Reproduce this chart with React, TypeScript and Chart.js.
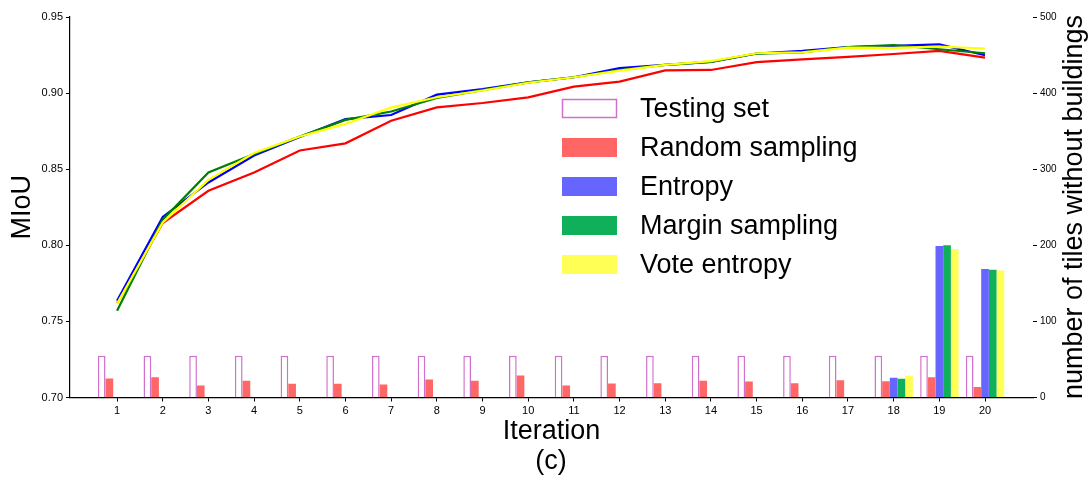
import React, { useEffect, useRef } from 'react';
import { Chart, registerables } from 'chart.js';

Chart.register(...registerables);

const FONT = '"Liberation Sans", Arial, Helvetica, sans-serif';

const iterations = [1, 2, 3, 4, 5, 6, 7, 8, 9, 10, 11, 12, 13, 14, 15, 16, 17, 18, 19, 20];

// MIoU lines (left axis)
const miouRandom = [0.762, 0.8146, 0.8358, 0.8478, 0.8623, 0.867, 0.8818, 0.8906, 0.8935, 0.8972, 0.9043, 0.9075, 0.9149, 0.9152, 0.9203, 0.9222, 0.9238, 0.9257, 0.9277, 0.9233];
const miouEntropy = [0.7636, 0.8186, 0.8413, 0.859, 0.8712, 0.8829, 0.8856, 0.899, 0.9026, 0.907, 0.9104, 0.9164, 0.9186, 0.9205, 0.926, 0.9277, 0.9303, 0.931, 0.932, 0.9249];
const miouMargin = [0.757, 0.8168, 0.8478, 0.86, 0.8715, 0.8824, 0.8879, 0.8968, 0.902, 0.907, 0.9104, 0.9152, 0.9186, 0.9205, 0.926, 0.9268, 0.9303, 0.9316, 0.9288, 0.9262];
const miouVote = [0.7617, 0.815, 0.843, 0.8606, 0.8715, 0.8798, 0.8905, 0.8973, 0.9017, 0.9068, 0.9104, 0.9148, 0.9186, 0.921, 0.9262, 0.9268, 0.9299, 0.9297, 0.9305, 0.9293];

// number of tiles without buildings (right axis)
const tilesTesting = [55, 55, 55, 55, 55, 55, 55, 55, 55, 55, 55, 55, 55, 55, 55, 55, 55, 55, 55, 55];
const tilesRandom = [25, 26.6, 15.7, 22, 18, 18, 17, 23.6, 22, 29, 15.7, 18.4, 18.8, 22, 21, 18.8, 22.7, 21.5, 26.6, 13.8];
const tilesEntropy = [0, 0, 0, 0, 0, 0, 0, 0, 0, 0, 0, 0, 0, 0, 0, 0, 0, 26, 199, 169];
const tilesMargin = [0, 0, 0, 0, 0, 0, 0, 0, 0, 0, 0, 0, 0, 0, 0, 0, 0, 24.5, 200, 168];
const tilesVote = [0, 0, 0, 0, 0, 0, 0, 0, 0, 0, 0, 0, 0, 0, 0, 0, 0, 28.5, 195, 167];

const leftTicks = [0.7, 0.75, 0.8, 0.85, 0.9, 0.95];
const rightTicks = [0, 100, 200, 300, 400, 500];

const pts = (vals: number[]) => vals.map((v, i) => ({ x: iterations[i], y: v }));

const overlayPlugin = {
  id: 'overlay',
  afterDraw(chart: any) {
    const ctx = chart.ctx as CanvasRenderingContext2D;
    ctx.save();
    // legend (bar datasets)
    const bars = chart.data.datasets.filter((d: any) => d.type === 'bar');
    const boxX = 562;
    const boxW = 55;
    const boxH = 19;
    const y0 = 108.5;
    const dy = 39;
    ctx.font = `27px ${FONT}`;
    ctx.textBaseline = 'middle';
    ctx.textAlign = 'left';
    bars.forEach((ds: any, i: number) => {
      const cy = y0 + i * dy;
      ctx.fillStyle = ds.backgroundColor;
      ctx.fillRect(boxX, cy - boxH / 2, boxW, boxH);
      if (ds.borderWidth) {
        ctx.strokeStyle = ds.borderColor;
        ctx.lineWidth = ds.borderWidth;
        ctx.strokeRect(boxX + 0.5, cy - boxH / 2 + 0.5, boxW - 1, boxH - 1);
      }
      ctx.fillStyle = '#000';
      ctx.fillText(ds.label, 640, cy + 1);
    });
    // right axis title (reads bottom to top)
    ctx.save();
    ctx.translate(1075, 207);
    ctx.rotate(-Math.PI / 2);
    ctx.textAlign = 'center';
    ctx.textBaseline = 'middle';
    ctx.font = `27px ${FONT}`;
    ctx.fillStyle = '#000';
    ctx.fillText('number of tiles without buildings', 0, 0);
    ctx.restore();
    // subfigure caption
    ctx.textAlign = 'center';
    ctx.textBaseline = 'middle';
    ctx.font = `27px ${FONT}`;
    ctx.fillStyle = '#000';
    ctx.fillText('(c)', 551, 462);
    ctx.restore();
  },
};

export default function App() {
  const ref = useRef<HTMLCanvasElement | null>(null);

  useEffect(() => {
    if (!ref.current) return;
    Chart.defaults.font.family = FONT;
    const barCommon = {
      type: 'bar' as const,
      xAxisID: 'x',
      yAxisID: 'y2',
      categoryPercentage: 0.84,
      barPercentage: 1.0,
      order: 10,
    };
    const lineCommon = {
      type: 'line' as const,
      xAxisID: 'x',
      yAxisID: 'y',
      pointRadius: 0,
      pointHoverRadius: 0,
      borderWidth: 2.2,
      tension: 0,
      fill: false,
    };
    const chart = new Chart(ref.current, {
      data: {
        datasets: [
          { ...lineCommon, label: 'Random sampling line', data: pts(miouRandom), borderColor: '#FF0000', order: 4 },
          { ...lineCommon, label: 'Entropy line', data: pts(miouEntropy), borderColor: '#0000FF', order: 3 },
          { ...lineCommon, label: 'Margin sampling line', data: pts(miouMargin), borderColor: '#008000', order: 2 },
          { ...lineCommon, label: 'Vote entropy line', data: pts(miouVote), borderColor: '#FFFF00', order: 1 },
          { ...barCommon, label: 'Testing set', data: pts(tilesTesting), backgroundColor: '#FFFFFF', borderColor: '#D070CC', borderWidth: 1.5 },
          { ...barCommon, label: 'Random sampling', data: pts(tilesRandom), backgroundColor: '#FF6666', borderWidth: 0 },
          { ...barCommon, label: 'Entropy', data: pts(tilesEntropy), backgroundColor: '#6666FF', borderWidth: 0 },
          { ...barCommon, label: 'Margin sampling', data: pts(tilesMargin), backgroundColor: '#10B05A', borderWidth: 0 },
          { ...barCommon, label: 'Vote entropy', data: pts(tilesVote), backgroundColor: '#FFFF55', borderWidth: 0 },
        ] as any,
      },
      options: {
        animation: false,
        responsive: false,
        maintainAspectRatio: false,
        devicePixelRatio: 1,
        layout: { padding: { top: 17, left: 0, right: 0, bottom: 0 } },
        plugins: {
          legend: { display: false },
          tooltip: { enabled: false },
          title: { display: false },
        },
        scales: {
          x: {
            type: 'linear',
            position: 'bottom',
            offset: false,
            min: -0.03,
            max: 21.05,
            afterBuildTicks: (s: any) => {
              s.ticks = iterations.map((v) => ({ value: v }));
            },
            afterFit: (s: any) => {
              s.height = 79.5;
            },
            ticks: {
              autoSkip: false,
              maxRotation: 0,
              color: '#000',
              padding: 3,
              font: { size: 11, family: FONT },
              callback: (v: any) => String(v),
            },
            grid: { display: true, offset: false, drawOnChartArea: false, drawTicks: true, tickLength: 4, tickColor: '#000', color: '#000' },
            border: { display: true, color: '#000', width: 1.2 },
            title: {
              display: true,
              text: 'Iteration',
              color: '#000',
              font: { size: 27, family: FONT },
              padding: { top: 0, bottom: 28.8 },
            },
          },
          y: {
            type: 'linear',
            position: 'left',
            min: 0.7,
            max: 0.95,
            afterBuildTicks: (s: any) => {
              s.ticks = leftTicks.map((v) => ({ value: v }));
            },
            afterFit: (s: any) => {
              s.width = 70;
            },
            ticks: {
              color: '#000',
              padding: 3,
              font: { size: 11, family: FONT },
              callback: (v: any) => Number(v).toFixed(2),
            },
            grid: { display: true, drawOnChartArea: false, drawTicks: true, tickLength: 4, tickColor: '#000', color: '#000' },
            border: { display: true, color: '#000', width: 1.2 },
            title: {
              display: true,
              text: 'MIoU',
              color: '#000',
              font: { size: 27, family: FONT },
              padding: { top: 6.8, bottom: 0 },
            },
          },
          y2: {
            type: 'linear',
            position: 'right',
            min: 0,
            max: 500,
            afterBuildTicks: (s: any) => {
              s.ticks = rightTicks.map((v) => ({ value: v }));
            },
            afterFit: (s: any) => {
              s.width = 57;
            },
            ticks: {
              color: '#000',
              padding: 3,
              font: { size: 10, family: FONT },
              callback: (v: any) => String(v),
            },
            grid: { display: true, drawOnChartArea: false, drawTicks: true, tickLength: 4, tickColor: '#000', color: '#000' },
            border: { display: false },
          },
        },
      } as any,
      plugins: [overlayPlugin],
    });
    return () => chart.destroy();
  }, []);

  return (
    <div style={{ position: 'absolute', left: 0, top: 0, width: 1090, height: 477, background: '#fff' }}>
      <canvas ref={ref} width={1090} height={477} style={{ width: 1090, height: 477, display: 'block' }} />
    </div>
  );
}
